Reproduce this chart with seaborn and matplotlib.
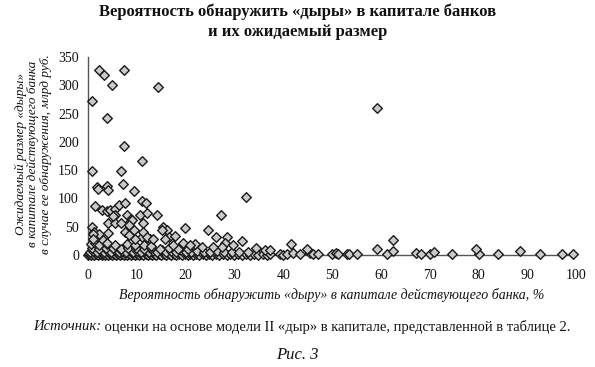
import matplotlib
matplotlib.use("Agg")
import matplotlib.pyplot as plt
import seaborn as sns
import pandas as pd

# --- data ---
# banks with noticeable expected holes (probability %, expected size bn rub)
upper_prob = [0.9, 2.2, 3.3, 7.3, 5.0, 14.3, 3.8, 7.3, 11.1, 0.9, 6.7, 1.8, 2.1,
              3.8, 4.2, 7.1, 9.4, 11.1, 11.9, 32.4, 1.5, 2.9, 3.9, 4.6, 5.6, 6.3,
              7.6, 5.6, 8.0, 10.7, 12.1, 14.1, 27.2, 8.9, 11.2, 0.8, 4.2, 5.6, 6.8,
              15.4, 19.9, 24.5, 16.1, 15.2, 1.2, 2.2, 4.1, 7.6, 8.3, 9.4, 11.1,
              12.8, 16.5, 17.8, 15.8, 26.2, 28.5, 31.5, 19.5, 21.9, 28.1, 27.4,
              59.2, 62.6, 41.6, 44.8, 59.2, 79.6, 88.6,
              0.6, 1.4, 2.3, 3.8, 5.6, 7.9, 9.7, 11.4, 12.9,
              5.2, 8.6, 9.1, 8.4, 1.1, 1.1, 3.1, 3.8, 9.6, 11.3, 12.0, 13.4,
              17.5, 20.9, 23.3, 25.7, 29.8, 34.5, 36.3, 37.3]
upper_size = [273, 327, 318, 327, 301, 297, 243, 193, 166, 148, 148, 120, 116,
              122, 115, 125, 114, 96, 92, 102, 87, 80, 77, 80, 82, 88,
              92, 71, 71, 71, 74, 71, 71, 63, 56, 50, 56, 56, 57,
              50, 48, 44, 44, 44, 41, 38, 39, 41, 35, 44, 32,
              28, 32, 34, 29, 31, 32, 25, 22, 19, 22, 15,
              260, 26, 19, 11, 10, 10, 7,
              20, 22, 18, 20, 18, 20, 18, 18, 16,
              69, 59, 62, 53, 38, 29, 27, 22, 29, 41, 32, 29,
              18, 18, 15, 15, 18, 12, 9, 9]

# banks with near-zero expected holes
base_prob = [0.0, 0.3, 0.6, 1.0, 1.3, 1.7, 2.0, 2.4, 2.8, 3.1, 3.5, 3.9, 4.2, 4.6,
             5.0, 5.4, 5.8, 6.1, 6.5, 6.9, 7.3, 7.7, 8.0, 8.4, 8.8, 9.2, 9.6, 10.0,
             10.4, 10.9, 11.3, 11.8, 12.2, 12.7, 13.1, 13.6, 14.0, 14.5, 15.0, 15.5,
             16.0, 16.5, 17.0, 17.6, 18.1, 18.7, 19.2, 19.8, 20.4, 21.0, 21.6, 22.2,
             22.8, 23.5, 24.1, 24.8, 25.5, 26.2, 26.9, 27.6, 28.4, 29.1, 29.9, 30.7,
             31.5, 32.3, 33.2, 34.0, 34.9, 35.8, 36.7,
             0.4, 1.1, 1.9, 2.6, 3.3, 4.0, 4.8, 5.5, 6.3, 7.0, 7.8, 8.6, 9.3, 10.1,
             10.9, 11.7, 12.5, 13.4, 14.2, 15.1, 16.0, 17.0, 18.0, 19.0, 20.1, 21.2,
             22.4, 23.7, 25.0, 26.4, 27.9, 29.5, 31.0, 32.8,
             0.8, 2.2, 3.6, 5.2, 6.8, 8.2, 9.9, 11.5, 13.0, 14.8, 16.6, 18.4, 20.5,
             37.3, 39.3, 40.0, 40.7, 42.1, 43.4, 45.5, 46.2, 47.2, 49.9, 50.8, 51.3,
             53.0, 53.4, 55.1, 61.3, 62.6, 67.3, 68.2, 70.1, 70.8, 74.5, 80.1, 84.1,
             92.6, 97.1, 99.3]
base_size = [0, 1, 0, 2, 0, 1, 0, 2, 0, 1, 0, 1, 0, 2,
             0, 1, 0, 2, 0, 1, 0, 1, 0, 2, 0, 1, 0, 1,
             0, 2, 0, 1, 0, 1, 0, 2, 0, 1, 0, 1,
             0, 2, 0, 1, 0, 1, 0, 2, 0, 1, 0, 1,
             0, 2, 0, 1, 0, 1, 0, 2, 0, 1, 0, 1,
             0, 2, 0, 1, 0, 1, 0,
             6, 7, 5, 8, 6, 7, 5, 8, 6, 7, 5, 8, 6, 7,
             5, 8, 6, 7, 5, 8, 6, 7, 5, 8, 6, 5,
             7, 6, 5, 7, 6, 5, 6, 5,
             12, 11, 13, 12, 11, 13, 12, 11, 12, 11, 12, 11, 10,
             2, 1, 0, 1, 3, 1, 4, 2, 1, 1, 3, 1,
             2, 1, 1, 2, 7, 3, 2, 1, 5, 2, 2, 2,
             1, 1, 1]

x_ticks = [0, 10, 20, 30, 40, 50, 60, 70, 80, 90, 100]
y_ticks = [0, 50, 100, 150, 200, 250, 300, 350]

title_text = "Вероятность обнаружить «дыры» в капитале банков\nи их ожидаемый размер"
ylabel_text = ("Ожидаемый размер «дыры»\nв капитале действующего банка\n"
               "в случае ее обнаружения, млрд руб.")
xlabel_text = "Вероятность обнаружить «дыру» в капитале действующего банка, %"
source_label = "Источник:"
source_text = " оценки на основе модели II «дыр» в капитале, представленной в таблице 2."
fig_label = "Рис. 3"

df = pd.DataFrame({
    "prob": base_prob + upper_prob,
    "size": base_size + upper_size,
})

sns.set_theme(style="white")
plt.rcParams["font.family"] = ["Liberation Serif", "DejaVu Serif"]

fig = plt.figure(figsize=(5.95, 3.67), dpi=100)
ax = fig.add_axes([88 / 595, 1 - 255 / 367, 488 / 595, 198 / 367])

sns.scatterplot(data=df, x="prob", y="size", ax=ax, marker="D", s=24,
                color="#c9c9c9", edgecolor="#1a1a1a", linewidth=1.0,
                clip_on=False, zorder=3, legend=False)

ax.set_xlim(0, 100)
ax.set_ylim(0, 350)
ax.set_xticks(x_ticks)
ax.set_yticks(y_ticks)
ax.set_xticklabels([str(t) for t in x_ticks])
ax.set_yticklabels([str(t) for t in y_ticks])
ax.tick_params(axis="x", direction="out", length=3, width=1, color="#555555",
               pad=7, labelsize=10, labelcolor="#111111")
ax.tick_params(axis="y", direction="out", length=3.5, width=1, color="#555555",
               pad=3, labelsize=10, labelcolor="#111111")
ax.set_xlabel("")
ax.set_ylabel("")
for side in ["top", "right"]:
    ax.spines[side].set_visible(False)
for side in ["left", "bottom"]:
    ax.spines[side].set_color("#555555")
    ax.spines[side].set_linewidth(1.0)

fig.text(0.5, 1 - 22 / 367, title_text, ha="center", va="center",
         fontsize=12, fontweight="bold", linespacing=1.3, color="#111111")

fig.text(33 / 595, 1 - 154 / 367, ylabel_text, ha="center", va="center",
         rotation=90, fontsize=9.5, style="italic", linespacing=1.05,
         color="#111111")

fig.text(332 / 595, 1 - 295 / 367, xlabel_text, ha="center", va="center",
         fontsize=10, style="italic", color="#111111")

t1 = fig.text(33 / 595, 1 - 327 / 367, source_label, ha="left", va="center",
              fontsize=10.5, style="italic", color="#111111")
fig.canvas.draw()
bb = t1.get_window_extent()
fig.text(bb.x1 / fig.bbox.width, 1 - 327 / 367, source_text, ha="left",
         va="center", fontsize=10.5, color="#111111")

fig.text(297 / 595, 1 - 355 / 367, fig_label, ha="center", va="center",
         fontsize=12, style="italic", color="#111111")

fig.savefig("out.png", dpi=100)
